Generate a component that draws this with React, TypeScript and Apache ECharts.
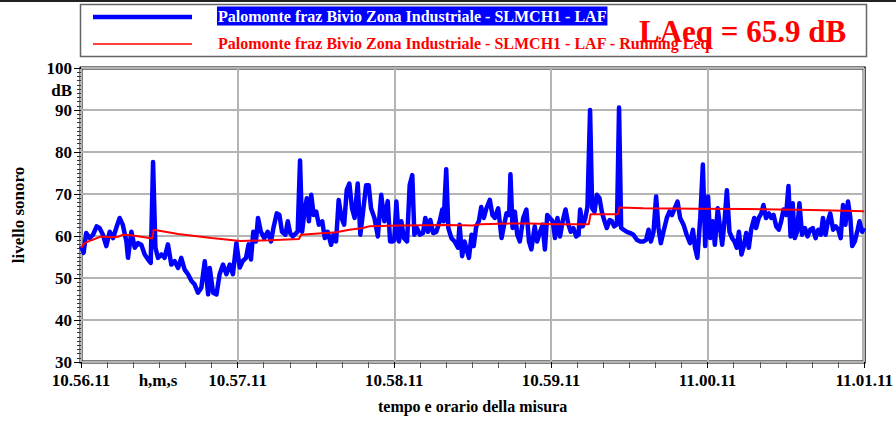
import React, { useEffect, useRef } from "react";
import * as echarts from "echarts";

const timeTicks = ["10.56.11", "10.57.11", "10.58.11", "10.59.11", "11.00.11", "11.01.11"];
const seriesNames = [
  "Palomonte fraz Bivio Zona Industriale - SLMCH1 - LAF",
  "Palomonte fraz Bivio Zona Industriale - SLMCH1 - LAF - Running Leq",
];
const laeqLabel = "LAeq = 65.9 dB";
const xAxisName = "tempo e orario della misura";
const yAxisName = "livello sonoro";
const yUnit = "dB";
const xUnit = "h,m,s";

// seconds after 10.56.11
const lafSeconds = [
  0, 1, 2, 3.3, 4.6, 6, 7.1, 8.4, 9.7, 11, 12.3, 13.5, 14.8, 16, 17.4, 18, 19.3, 20.6, 21.8, 23.1,
  24.4, 25.7, 26.7, 27.6, 28.5, 29.5, 30.8, 32, 33.3, 34.6, 35.9, 37.2, 38.4, 39.7, 41, 42.3, 43.5, 44.8,
  46.1, 47.4, 48.7, 49.3, 50.6, 51.9, 53.1, 54.4, 55.7, 57, 58.2, 59.5,
  60.8, 61.9, 63.2, 64.2, 65.1, 66, 67, 67.8, 68.9, 70.2, 71.5, 72.8, 73.7, 75, 76, 77, 78.3, 79.2, 80.1,
  81.1, 82.4, 83, 83.9, 84.7, 85.6, 86.5, 87.3, 88.2, 89.1, 90.1, 91.1, 92.4, 93.4, 94.5, 95.8, 96.7, 97.7,
  98.7, 99.8, 100.8, 101.8, 102.8, 103.8, 104.8, 106, 107, 107.9, 109.2, 110.2, 111.1, 112.4, 113.7, 115,
  116.2, 117.5, 118.4, 119.4, 120.0,
  120.8, 121.8, 122.7, 123.7, 124.9, 125.9, 126.9, 127.7, 128.7, 129.8, 131, 131.9, 132.9, 133.8, 134.9,
  136.1, 137.4, 138.4, 138.9, 139.9, 140.7, 141.9, 143.1, 144.4, 145, 146, 146.9, 147.9, 148.6, 149.6, 150.4,
  151.4, 152.4, 153.3, 154.3, 155.3, 156.6, 157.6, 158.5, 159.8, 161.1, 162.1, 163, 164, 164.5, 165.3, 166.2,
  167.1, 168.1, 169.4, 170.6, 171.6, 172.5, 173.8, 174.7, 175.7, 176.8, 177.7, 178.6, 179.6,
  180.7, 181.6, 182.5, 183.5, 184.5, 185.6, 186.7, 187.6, 188.6, 189.7, 190.6, 191.2, 192.2, 193.2, 194, 195,
  195.8, 196.7, 197.6, 198.6, 199.5, 200.4, 201.4, 202.5, 203.4, 204.2, 205.3, 206.1, 206.9, 207.8, 209.1,
  210.4, 211.6, 212.9, 214.2, 215.5, 216.5, 217.4, 218.3, 219.3, 220.3, 221.2, 222.1, 223.1, 224.4, 225.4,
  226.4, 227.4, 228.5, 229.5, 230.8, 232, 233.3, 234.4, 235.2, 236.1, 237.2, 238.2, 239.1,
  240.2, 241, 242, 242.8, 243.9, 244.8, 245.6, 246.5, 247.4, 248.4, 249.4, 250.3, 251.2, 252, 253, 254, 254.8,
  255.8, 256.7, 257.9, 258.6, 259.6, 260.6, 261.4, 262.4, 263.5, 264.4, 265.3, 266.3, 267.3, 268.2, 269.1,
  270.1, 271, 271.8, 272.6, 273.4, 274.3, 275.2, 276.2, 277.3, 278.3, 279.3, 280.3, 281.4, 282.4, 283.4,
  284.2, 285.2, 286.1, 287, 288.1, 289.1, 290.1, 291, 291.9, 292.8, 293.8, 294.7, 295.4, 296.4, 297.5, 298.2,
  299.2, 300,
];
const lafValues = [
  57.6, 56, 60.7, 59.5, 60.3, 62.3, 61.9, 60.3, 57.6, 61, 59.5, 61.9, 64.3, 62.7, 58.7, 54.8, 61, 57.2, 58.3, 57.9,
  55.6, 54.4, 53.6, 77.6, 57.2, 54.8, 55.6, 54.8, 58, 53.2, 54, 52.4, 54.8, 52, 50.9, 49.3, 48.5, 46.5,
  47.7, 54, 46.1, 52.4, 46.5, 46.1, 50.9, 53.2, 50.9, 53.2, 50.9, 58.3,
  52.5, 54, 54.8, 58, 54.4, 61, 58.7, 64.3, 61, 59.5, 61, 58.7, 61.9, 65.4, 65, 61, 60.3, 63.5, 60.7,
  59.9, 60.7, 61, 78, 61, 65.8, 69, 63.5, 69.8, 65, 65.8, 62.7, 63.5, 59.5, 61, 57.9, 60.3, 58.7,
  68.6, 64.3, 62.7, 71, 72.5, 66.6, 64.3, 72.5, 60.3, 65, 72.1, 72.1, 66.6, 64.3, 59.9, 69.8,
  63.5, 68.3, 58.7, 58.7, 59,
  68.2, 58.7, 63.5, 59.5, 58.7, 72.1, 74.5, 60.3, 61.9, 60.3, 60.7, 64.3, 61, 63.8, 60.7,
  61, 63.5, 66.3, 63.5, 75.9, 61.9, 59.5, 58.7, 57.2, 62.7, 55.2, 58.7, 56.4, 54.8, 60.3, 57.6,
  62.3, 63.5, 66.9, 64.3, 66.6, 68.6, 65, 64.3, 66.6, 59.5, 62.7, 65.4, 65, 74.7, 61.9, 65.8,
  60.3, 58.7, 64.3, 66.3, 58.7, 56.8, 62.3, 58.7, 60.7, 62.7, 56.8, 65, 64.3,
  63.5, 59.5, 64.3, 59.9, 63.5, 66.3, 62.7, 61, 61.9, 59.9, 60.3, 66.3, 62.3, 64.3, 67, 90,
  66.6, 65.8, 69.8, 69, 65.8, 63.8, 61.9, 63.8, 63.5, 62.3, 62.7, 90.6, 61.9, 61.5, 61,
  60.7, 60.3, 59.1, 58.7, 58.7, 59.1, 61.5, 58.7, 61, 69.4, 61.9, 58.3, 61, 64.3, 65.8,
  65, 66.6, 68.2, 64.3, 62.7, 60.3, 58.3, 61.5, 57.2, 54.8, 64.3, 77, 57.6,
  69.4, 59.5, 63.5, 57.9, 66.6, 61.9, 57.9, 63.5, 70.9, 61, 59.5, 58.7, 57.2, 61, 55.6, 57.9, 60.7,
  57.2, 61.5, 64.3, 61.9, 64.3, 65.4, 67.4, 64.3, 65.4, 64.3, 65, 62.3, 61.5, 63.5, 66.3,
  65, 71.9, 59.9, 67.8, 59.5, 61, 67.8, 60.3, 61.9, 59.9, 61.5, 61.9, 59.5, 61.5, 60.3,
  64.3, 60.3, 63.5, 65.4, 61.5, 62.3, 61.5, 59.5, 67.4, 62.7, 68.2, 64.3, 57.6, 58.7, 61.5, 63.5,
  61, 61.9,
];

const leqSeconds = [
  0, 1.4, 4, 7.8, 11.6, 14.2, 16, 19.3, 27.4, 27.8, 37.2, 50, 61, 72, 83.5, 84.3, 97.7, 102.8, 108, 110.5,
  122, 140, 150, 153, 164.4, 172, 182, 194.5, 195.2, 205.6, 206.3, 215.5, 236, 255, 280, 300,
];
const leqValues = [
  57.2, 58.3, 59, 59.9, 59.7, 59.8, 60.3, 60.2, 59.4, 61.5, 60.5, 59.5, 58.8, 59, 59.3, 60.3, 60.9, 61.5, 61.9, 62.3,
  62.5, 62.6, 62.5, 62.8, 63, 63, 62.8, 62.8, 65.2, 65.2, 66.8, 66.6, 66.5, 66.4, 66.2, 65.9,
];

const FONT = "'Liberation Serif', 'Times New Roman', serif";

export default function App() {
  const ref = useRef<HTMLDivElement>(null);
  useEffect(() => {
    const chart = echarts.init(ref.current!, null, { renderer: "svg" });
    const laf = lafSeconds.map((t, i) => [t, lafValues[i]]);
    const leq = leqSeconds.map((t, i) => [t, leqValues[i]]);
    const labelStyle = { fontFamily: FONT, fontWeight: "bold" as const, fontSize: 17, color: "#000" };
    chart.setOption({
      animation: false,
      backgroundColor: "#ffffff",
      grid: {
        left: 81,
        right: 31,
        top: 68,
        bottom: 61,
        show: true,
        borderColor: "#000",
        borderWidth: 3,
        backgroundColor: "transparent",
      },
      xAxis: {
        type: "value",
        min: 0,
        max: 300,
        interval: 60,
        axisLine: { show: false },
        axisTick: { show: true, length: 6, lineStyle: { color: "#000", width: 1 } },
        minorTick: { show: true, splitNumber: 6, length: 6, lineStyle: { color: "#555", width: 1 } },
        splitLine: { show: true, lineStyle: { color: "#b4b4b4", width: 2 } },
        axisLabel: {
          ...labelStyle,
          margin: 10,
          formatter: (v: number) => timeTicks[Math.round(v / 60)] ?? "",
        },
        name: xAxisName,
        nameLocation: "middle",
        nameGap: 36,
        nameTextStyle: { fontFamily: FONT, fontWeight: "bold", fontSize: 16, color: "#000" },
      },
      yAxis: {
        type: "value",
        min: 30,
        max: 100,
        interval: 10,
        axisLine: { show: false },
        axisTick: { show: true, length: 7, lineStyle: { color: "#000", width: 1 } },
        minorTick: { show: true, splitNumber: 10, length: 4, lineStyle: { color: "#333", width: 1 } },
        splitLine: { show: true, lineStyle: { color: "#b4b4b4", width: 2 } },
        axisLabel: { ...labelStyle, margin: 9 },
        name: yAxisName,
        nameLocation: "middle",
        nameGap: 54,
        nameTextStyle: { fontFamily: FONT, fontWeight: "bold", fontSize: 17, color: "#000" },
      },
      legend: { show: false },
      series: [
        {
          name: seriesNames[0],
          type: "line",
          data: laf,
          showSymbol: false,
          symbol: "none",
          lineStyle: { color: "#0000ff", width: 4.5, join: "round" },
          itemStyle: { color: "#0000ff" },
          z: 2,
        },
        {
          name: seriesNames[1],
          type: "line",
          data: leq,
          showSymbol: false,
          symbol: "none",
          lineStyle: { color: "#ff0000", width: 2 },
          itemStyle: { color: "#ff0000" },
          z: 3,
        },
      ],
      graphic: [
        { type: "rect", shape: { x: 0, y: 0, width: 896, height: 2 }, style: { fill: "#222" } },
        {
          type: "rect",
          shape: { x: 80.5, y: 4.5, width: 786, height: 52 },
          style: { fill: "#fff", stroke: "#666", lineWidth: 1.5 },
        },
        {
          type: "line",
          shape: { x1: 93, y1: 17, x2: 192, y2: 17 },
          style: { stroke: "#0000ff", lineWidth: 4.5 },
        },
        {
          type: "text",
          x: 217,
          y: 16,
          style: {
            text: seriesNames[0],
            fill: "#ffffff",
            backgroundColor: "#0000ff",
            padding: [2, 1, 1, 1],
            font: `bold 16px ${FONT}`,
            verticalAlign: "middle",
          },
        },
        {
          type: "line",
          shape: { x1: 93, y1: 44, x2: 192, y2: 44 },
          style: { stroke: "#ff0000", lineWidth: 1.5 },
        },
        {
          type: "text",
          x: 218,
          y: 43,
          style: { text: seriesNames[1], fill: "#ff0000", font: `bold 16px ${FONT}`, verticalAlign: "middle" },
        },
        {
          type: "text",
          x: 639,
          y: 31,
          style: { text: laeqLabel, fill: "#ff0000", font: `bold 31px ${FONT}`, verticalAlign: "middle" },
        },
        {
          type: "text",
          x: 72,
          y: 90,
          style: { text: yUnit, fill: "#000", font: `bold 17px ${FONT}`, align: "right", verticalAlign: "middle" },
        },
        {
          type: "text",
          x: 158,
          y: 372,
          style: { text: xUnit, fill: "#000", font: `bold 17px ${FONT}`, align: "center", verticalAlign: "top" },
        },
      ],
    });
    return () => chart.dispose();
  }, []);
  return (
    <div
      ref={ref}
      style={{ position: "fixed", left: 0, top: 0, width: 896, height: 423, background: "#fff" }}
    />
  );
}
